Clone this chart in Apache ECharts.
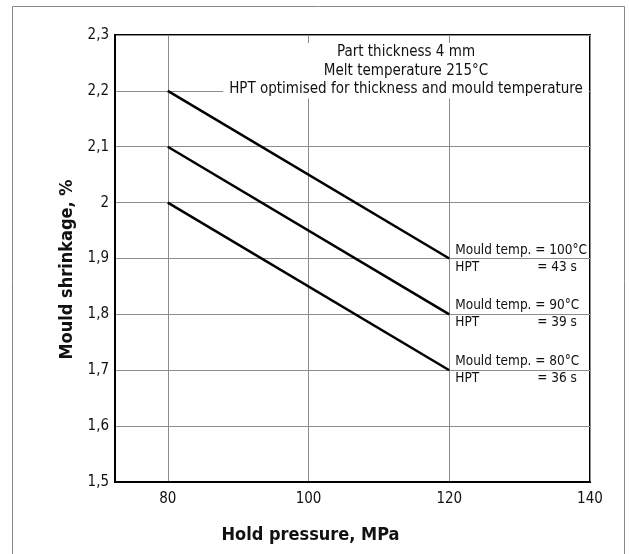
<!DOCTYPE html>
<html><head><meta charset="utf-8">
<script src="https://cdn.jsdelivr.net/npm/echarts@6/dist/echarts.min.js"></script>
<style>html,body{margin:0;padding:0;background:#fff}#c{width:629px;height:554px}</style>
</head><body><div id="c"></div>
<script>
const pressure = [80, 120];
const shrink100 = [2.2, 1.9];
const shrink90 = [2.1, 1.8];
const shrink80 = [2.0, 1.7];
const mouldTemps = ['100', '90', '80'];
const hptTimes = ['43', '39', '36'];
const xTicks = [80, 100, 120, 140];
const noteLines = ['Part thickness 4 mm', 'Melt temperature 215°C', 'HPT optimised for thickness and mould temperature'];

const FONT = '"Liberation Sans Narrow", "DejaVu Sans Condensed", "Arial Narrow", sans-serif';
const chart = echarts.init(document.getElementById('c'));

function mkSeries(vals, temp, hpt) {
  const data = pressure.map((p, i) => {
    const d = { value: [p, vals[i]] };
    if (i === pressure.length - 1) {
      d.label = {
        show: true, position: 'right', distance: 6, offset: [0, 0.5],
        fontFamily: FONT, fontSize: 13.5,
        formatter: '{m|Mould temp. = ' + temp + '°C}\n{h|HPT}{v|= ' + hpt + ' s}',
        rich: {
          m: { fontFamily: FONT, fontSize: 13.5, color: '#111', lineHeight: 17 },
          h: { fontFamily: FONT, fontSize: 13.5, color: '#111', lineHeight: 17, width: 82 },
          v: { fontFamily: FONT, fontSize: 13.5, color: '#111', lineHeight: 17 }
        }
      };
    }
    return d;
  });
  return {
    type: 'line', data: data, symbol: 'circle', symbolSize: 0, showSymbol: true, silent: true,
    itemStyle: { color: '#000' },
    lineStyle: { color: '#000', width: 2.5 },
    labelLayout: { hideOverlap: false }
  };
}

const fmt = v => String(Math.round(v * 10) / 10).replace('.', ',');

chart.setOption({
  animation: false,
  backgroundColor: '#fff',
  grid: { left: 115, right: 39, top: 35, bottom: 72, show: true, borderColor: '#000', borderWidth: 2, backgroundColor: 'transparent' },
  xAxis: {
    type: 'value', min: 72.5, max: 140,
    name: 'Hold pressure, MPa', nameLocation: 'middle', nameGap: 44,
    nameTextStyle: { fontFamily: FONT, fontSize: 18, fontWeight: 'bold', color: '#111', padding: [0, 84, 0, 0] },
    axisLine: { show: true, lineStyle: { color: '#000', width: 2 } },
    axisTick: { show: false, customValues: xTicks },
    axisLabel: { customValues: xTicks, fontFamily: FONT, fontSize: 15, color: '#111', margin: 10 },
    splitLine: { show: true, lineStyle: { color: '#8c8c8c', width: 1 } }
  },
  yAxis: {
    type: 'value', min: 1.5, max: 2.3, interval: 0.1,
    name: 'Mould shrinkage, %', nameLocation: 'middle', nameGap: 24,
    nameTextStyle: { fontFamily: FONT, fontSize: 18, fontWeight: 'bold', color: '#111', padding: [0, 22, 0, 0] },
    axisLine: { show: true, lineStyle: { color: '#000', width: 2 } },
    axisTick: { show: false },
    axisLabel: { formatter: fmt, fontFamily: FONT, fontSize: 15, color: '#111', margin: 6 },
    splitLine: { show: true, lineStyle: { color: '#8c8c8c', width: 1 } }
  },
  series: [
    mkSeries(shrink100, mouldTemps[0], hptTimes[0]),
    mkSeries(shrink90, mouldTemps[1], hptTimes[1]),
    mkSeries(shrink80, mouldTemps[2], hptTimes[2])
  ],
  graphic: [
    { type: 'rect', shape: { x: 12.5, y: 6.5, width: 612, height: 570 }, style: { fill: 'none', stroke: '#888', lineWidth: 1 }, z: 100 },
    { type: 'text', x: 406, y: 43, z: 50,
      style: { text: noteLines.join('\n'), textAlign: 'center', fontFamily: FONT, fontSize: 15, lineHeight: 18.5, fill: '#111',
        backgroundColor: '#fff', padding: [0, 6, 0, 6] } }
  ]
});
</script></body></html>
